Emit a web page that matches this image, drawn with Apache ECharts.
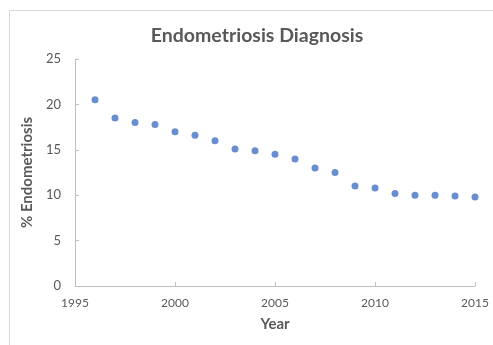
<!DOCTYPE html>
<html>
<head>
<meta charset="utf-8">
<script src="https://cdn.jsdelivr.net/npm/echarts@6/dist/echarts.min.js"></script>
<style>
  html, body { margin: 0; padding: 0; background: #fff; }
  #frame { position: absolute; left: 9px; top: 10px; width: 500px; height: 350px; border: 1px solid #d9d9d9; }
  #chart { width: 493px; height: 345px; position: absolute; left: 0; top: 0; }
</style>
</head>
<body>
<div id="frame"></div>
<div id="chart"></div>
<script>
// Endometriosis diagnosis by year
const years = [1996, 1997, 1998, 1999, 2000, 2001, 2002, 2003, 2004, 2005,
               2006, 2007, 2008, 2009, 2010, 2011, 2012, 2013, 2014, 2015];
const percent = [20.5, 18.5, 18.0, 17.8, 17.0, 16.6, 16.0, 15.1, 14.9, 14.5,
                 14.0, 13.0, 12.5, 11.0, 10.8, 10.2, 10.0, 10.0, 9.9, 9.8];

const chart = echarts.init(document.getElementById('chart'));
const textColor = '#595959';
const font = 'Lato, sans-serif';

chart.setOption({
  animation: false,
  title: {
    text: 'Endometriosis Diagnosis',
    left: 252,
    textAlign: 'center',
    top: 21,
    textStyle: { color: textColor, fontSize: 19.5, fontWeight: 'bold', fontFamily: font }
  },
  grid: { left: 75, right: 18, top: 59, bottom: 59 },
  xAxis: {
    type: 'value',
    min: 1995,
    max: 2015,
    interval: 5,
    name: 'Year',
    nameLocation: 'middle',
    nameGap: 31,
    nameTextStyle: { color: textColor, fontSize: 15, fontWeight: 'bold', fontFamily: font },
    axisLine: { lineStyle: { color: '#bfbfbf' } },
    axisTick: { show: true, inside: true, length: 4, lineStyle: { color: '#bfbfbf' } },
    axisLabel: { color: textColor, fontSize: 12, margin: 11, fontFamily: font, formatter: v => String(v) },
    splitLine: { show: false }
  },
  yAxis: {
    type: 'value',
    min: 0,
    max: 25,
    interval: 5,
    name: '% Endometriosis',
    nameLocation: 'middle',
    nameGap: 25,
    nameTextStyle: { color: textColor, fontSize: 15, fontWeight: 'bold', fontFamily: font },
    axisLine: { show: true, lineStyle: { color: '#bfbfbf' } },
    axisTick: { show: true, inside: true, length: 4, lineStyle: { color: '#bfbfbf' } },
    axisLabel: { color: textColor, fontSize: 13, margin: 14, fontFamily: font },
    splitLine: { show: false }
  },
  series: [{
    type: 'scatter',
    data: years.map((y, i) => [y, percent[i]]),
    symbolSize: 7,
    itemStyle: { color: '#4472C4' }
  }]
});
</script>
</body>
</html>
